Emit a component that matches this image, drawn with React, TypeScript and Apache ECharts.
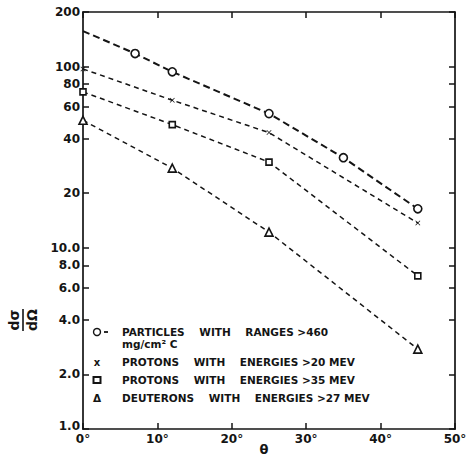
import React, { useEffect, useRef } from "react";
import * as echarts from "echarts";

// Angular distributions (differential cross-section vs. angle)
const yTickValues = [1, 2, 4, 6, 8, 10, 20, 40, 60, 80, 100, 200];
const yTickLabels = ["1.0", "2.0", "4.0", "6.0", "8.0", "10.0", "20", "40", "60", "80", "100", "200"];

const particleAngles = [0, 7, 12, 25, 35, 45];
const particleValues = [157, 118, 93.5, 55, 31.4, 16.4];

const protonAngles = [0, 12, 25, 45];
const proton20Values = [97, 65.2, 43.2, 13.7];
const proton35Values = [72.5, 47.8, 29.7, 7.0];
const deuteronValues = [50.5, 27.5, 12.2, 2.76];

const legendRows = [
  { mark: "circle", text: "PARTICLES    WITH    RANGES >460", sub: "mg/cm² C" },
  { mark: "cross", text: "PROTONS    WITH    ENERGIES >20 MEV" },
  { mark: "square", text: "PROTONS    WITH    ENERGIES >35 MEV" },
  { mark: "triangle", text: "DEUTERONS    WITH    ENERGIES >27 MEV" },
];

const INK = "#141414";
const FONT = "DejaVu Sans";
const CROSS =
  "path://M0,1L1,0L5,4L9,0L10,1L6,5L10,9L9,10L5,6L1,10L0,9L4,5Z";

function pairs(xs: number[], ys: number[]) {
  return xs.map((x, i) => [x, ys[i]]);
}

function yLabel(v: number) {
  const i = yTickValues.findIndex((t) => Math.abs(t - v) / t < 1e-6);
  if (i < 0) return "";
  // the bottom label sits a little above the corner so it clears "0°"
  return i === 0 ? `{lift|${yTickLabels[i]}}` : yTickLabels[i];
}

export default function App() {
  const ref = useRef<HTMLDivElement>(null);

  useEffect(() => {
    if (!ref.current) return;
    const chart = echarts.init(ref.current, undefined, { renderer: "svg" });

    const hollow = { color: "#fff", borderColor: INK, borderWidth: 1.6 };
    const thinDash = { color: INK, width: 1.5, type: [5, 4] as number[] };

    const particleData = pairs(particleAngles, particleValues).map((p, i) =>
      i === 0 ? { value: p, symbol: "none" } : { value: p }
    );

    const legendX = 97;
    const textX = 122;
    const rowY = [332, 362, 380, 398];
    const textFont = `bold 10.5px "${FONT}"`;
    const graphics: any[] = [];
    legendRows.forEach((row, i) => {
      const y = rowY[i];
      if (row.mark === "circle") {
        graphics.push({
          type: "circle",
          shape: { cx: legendX, cy: y, r: 3.5 },
          style: { fill: "none", stroke: INK, lineWidth: 1.4 },
        });
        graphics.push({
          type: "line",
          shape: { x1: 104, y1: y, x2: 108, y2: y },
          style: { stroke: INK, lineWidth: 1.8 },
        });
      } else if (row.mark === "cross") {
        graphics.push({
          type: "text",
          x: legendX,
          y: y,
          style: { text: "x", font: `bold 10px "${FONT}"`, fill: INK, align: "center", verticalAlign: "middle" },
        });
      } else if (row.mark === "square") {
        graphics.push({
          type: "rect",
          shape: { x: legendX - 3.5, y: y - 3, width: 7, height: 6 },
          style: { fill: "none", stroke: INK, lineWidth: 2 },
        });
      } else {
        graphics.push({
          type: "text",
          x: legendX,
          y: y,
          style: { text: "Δ", font: `bold 10.5px "${FONT}"`, fill: INK, align: "center", verticalAlign: "middle" },
        });
      }
      graphics.push({
        type: "text",
        x: textX,
        y: y,
        style: { text: row.text, font: textFont, fill: INK, verticalAlign: "middle" },
      });
      if (row.sub) {
        graphics.push({
          type: "text",
          x: textX,
          y: y + 12,
          style: { text: row.sub, font: textFont, fill: INK, verticalAlign: "middle" },
        });
      }
    });

    // x-axis title
    graphics.push({
      type: "text",
      x: 264,
      y: 449,
      style: { text: "θ", font: `bold 13px "${FONT}"`, fill: INK, align: "center", verticalAlign: "middle" },
    });

    // dσ/dΩ written as a fraction, turned to read bottom to top
    graphics.push({
      type: "group",
      x: 23,
      y: 320,
      rotation: Math.PI / 2,
      children: [
        {
          type: "text",
          x: 0,
          y: -9,
          style: { text: "dσ", font: `bold 14px "${FONT}"`, fill: INK, align: "center", verticalAlign: "middle" },
        },
        { type: "line", shape: { x1: -11, y1: 0, x2: 11, y2: 0 }, style: { stroke: INK, lineWidth: 1.6 } },
        {
          type: "text",
          x: 0,
          y: 9,
          style: { text: "dΩ", font: `bold 14px "${FONT}"`, fill: INK, align: "center", verticalAlign: "middle" },
        },
      ],
    });

    const axisLine = { show: true, onZero: false, lineStyle: { color: INK, width: 1.7 } };
    const tickStyle = { show: true, inside: true, length: 6, lineStyle: { color: INK, width: 1.5 } };
    const tickFont = { fontFamily: FONT, fontSize: 12, fontWeight: "bold" as const, color: INK };

    chart.setOption({
      animation: false,
      backgroundColor: "#fff",
      grid: { left: 83, right: 16, top: 12, bottom: 29, outerBoundsMode: "none" },
      graphic: graphics,
      xAxis: [
        {
          type: "value",
          min: 0,
          max: 50,
          interval: 10,
          position: "bottom",
          axisLine,
          axisTick: tickStyle,
          splitLine: { show: false },
          axisLabel: { formatter: (v: number) => `${v}°`, margin: 4, lineHeight: 12, ...tickFont },
        },
        {
          type: "value",
          min: 0,
          max: 50,
          interval: 10,
          position: "top",
          axisLine,
          axisTick: tickStyle,
          splitLine: { show: false },
          axisLabel: { show: false },
        },
      ],
      yAxis: [
        {
          type: "log",
          logBase: 10,
          min: 1,
          max: 200,
          position: "left",
          axisLine,
          axisTick: { ...tickStyle, customValues: yTickValues },
          splitLine: { show: false },
          axisLabel: {
            customValues: yTickValues,
            formatter: (v: number) => yLabel(v),
            margin: 3,
            lineHeight: 12,
            ...tickFont,
            rich: {
              lift: { ...tickFont, lineHeight: 12, padding: [0, 0, 7, 0] },
            },
          },
        },
        {
          type: "log",
          logBase: 10,
          min: 1,
          max: 200,
          position: "right",
          axisLine,
          axisTick: { ...tickStyle, customValues: yTickValues },
          splitLine: { show: false },
          axisLabel: { show: false },
        },
      ],
      series: [
        {
          name: "PARTICLES WITH RANGES >460 mg/cm² C",
          type: "line",
          data: particleData,
          symbol: "circle",
          symbolSize: 8,
          itemStyle: hollow,
          lineStyle: { color: INK, width: 2, type: [7, 4] },
        },
        {
          name: "PROTONS WITH ENERGIES >20 MEV",
          type: "line",
          data: pairs(protonAngles, proton20Values),
          symbol: CROSS,
          symbolSize: 5,
          itemStyle: { color: INK },
          lineStyle: thinDash,
        },
        {
          name: "PROTONS WITH ENERGIES >35 MEV",
          type: "line",
          data: pairs(protonAngles, proton35Values),
          symbol: "rect",
          symbolSize: 6,
          itemStyle: hollow,
          lineStyle: thinDash,
        },
        {
          name: "DEUTERONS WITH ENERGIES >27 MEV",
          type: "line",
          data: pairs(protonAngles, deuteronValues),
          symbol: "triangle",
          symbolSize: 8,
          itemStyle: hollow,
          lineStyle: thinDash,
        },
      ],
    });

    return () => chart.dispose();
  }, []);

  return (
    <div
      ref={ref}
      style={{ position: "absolute", left: 0, top: 0, width: 471, height: 458, background: "#fff" }}
    />
  );
}
